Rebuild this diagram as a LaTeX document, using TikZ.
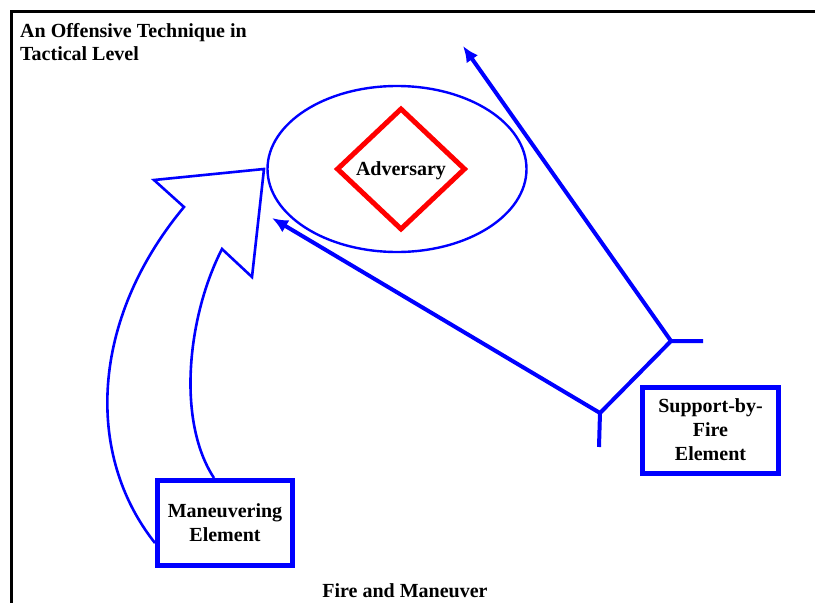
\documentclass[tikz,border=0pt]{standalone}
\usepackage{fontspec}
\setmainfont{Liberation Serif}
\usetikzlibrary{shapes.geometric,arrows.meta,calc}
\begin{document}
\begin{tikzpicture}[x=1pt,y=-1pt,
    every node/.style={font=\fontsize{20}{24}\selectfont\bfseries},
    element/.style={draw=blue,line width=5pt,minimum width=135pt,minimum height=85pt,align=center,inner sep=0pt},
    fireline/.style={draw=blue,line width=4pt},
    firearrow/.style={fireline,-{Latex[length=16pt,width=14pt]}},
    hollowarrow/.style={draw=blue,line width=2.6pt,line join=miter}]
  \useasboundingbox (0,0) rectangle (815,603);
  \draw[line width=3pt] (11,603) -- (11,11) -- (815,11);
  \node[anchor=north west,align=left,inner sep=0pt,font=\fontsize{20}{23}\selectfont\bfseries] (title) at (20,23)
    {An Offensive Technique in\\Tactical Level};
  \node (caption) at (405,591) {Fire and Maneuver};
  \node[ellipse,draw=blue,line width=2.4pt,minimum width=259pt,minimum height=166pt] (target) at (397,169) {};
  \node[diamond,draw=red,line width=5pt,minimum width=129pt,minimum height=122pt,inner sep=0pt,text depth=0pt] (adversary) at (401,169) {Adversary};
  \node[element] (maneuver) at (225,523) {Maneuvering\\Element};
  \node[element,minimum width=136pt,minimum height=86pt] (support) at (710.5,430) {Support-by-\\Fire\\Element};
  % fire lines
  \coordinate (fork) at (600,413);
  \coordinate (forkend) at (599,447);
  \coordinate (upfork) at (671,341);
  \coordinate (upend) at (703,341);
  \coordinate (flank) at (272,218);
  \coordinate (rear) at (463,46);
  \draw[fireline] (forkend) -- (fork);
  \draw[firearrow] (fork) -- (flank);
  \draw[fireline] (fork) -- (upfork) -- (upend);
  \draw[firearrow] (upfork) -- (rear);
  % maneuver arrow
  \draw[hollowarrow] ([yshift=-20pt]maneuver.west) .. controls (85,455) and (90,320) .. (184,207)
    -- (154,180) -- (264,169) -- (252,277) -- (222,249)
    .. controls (188,315) and (176,420) .. ([xshift=-11pt]maneuver.north);
\end{tikzpicture}
\end{document}
